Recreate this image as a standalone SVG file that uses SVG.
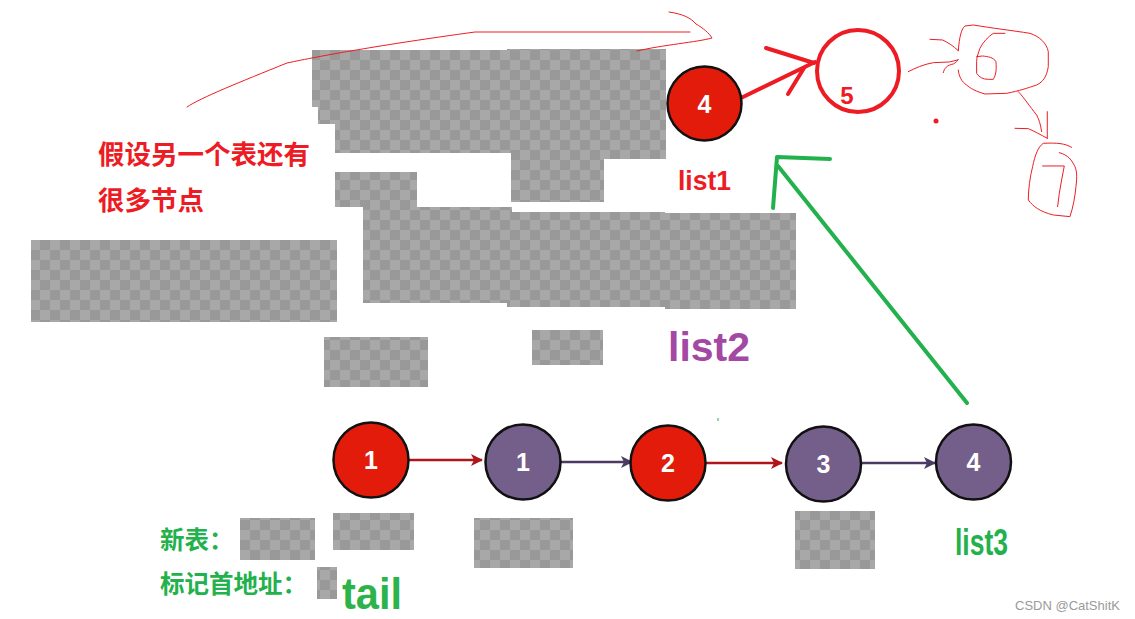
<svg xmlns="http://www.w3.org/2000/svg" width="1135" height="619" viewBox="0 0 1135 619">
<style>
.chk{fill:url(#checker)}
.nr{fill:#e31b0b;stroke:#111;stroke-width:2.5}
.np{fill:#745e8a;stroke:#111;stroke-width:2.5}
.nl{font-family:"Liberation Sans",Arial,sans-serif;font-weight:700;font-size:25px;fill:#fff;text-anchor:middle}
.hand{fill:none;stroke:#ed1c24;stroke-width:3;stroke-linecap:round;stroke-linejoin:round}
.cjk{font-family:"Noto Sans CJK SC","Liberation Sans",sans-serif;font-weight:700}
.lbl{font-family:"Liberation Sans",Arial,sans-serif;font-weight:700}
</style>
<defs>
<pattern id="checker" patternUnits="userSpaceOnUse" width="20" height="20">
<rect width="20" height="20" fill="#a8a8a8"/>
<rect width="10" height="10" fill="#999"/>
<rect x="10" y="10" width="10" height="10" fill="#999"/>
</pattern>
<marker id="ahR" markerUnits="userSpaceOnUse" markerWidth="12" markerHeight="12" refX="11" refY="6" orient="auto">
<path d="M0,0 L12,6 L0,12 L3,6 Z" fill="#b0151a"/>
</marker>
<marker id="ahP" markerUnits="userSpaceOnUse" markerWidth="12" markerHeight="12" refX="11" refY="6" orient="auto">
<path d="M0,0 L12,6 L0,12 L3,6 Z" fill="#4b3b63"/>
</marker>
</defs>
<rect width="1135" height="619" fill="#fff"/>

<g id="checker-areas">
<path class="chk" d="M312,50 L507,50 L507,49 L666,49 L666,159 L604,159 L604,202 L511,202 L511,153 L335,153 L335,124 L318,124 L318,107 L312,107 Z"/>
<rect class="chk" x="335" y="172" width="82" height="35"/>
<path class="chk" d="M363,207 L512,207 L512,212 L665,212 L665,213 L796,213 L796,309 L665,309 L665,307 L507,307 L507,303 L363,303 Z"/>
<rect class="chk" x="31" y="240" width="306" height="82"/>
<rect class="chk" x="324" y="337" width="104" height="50"/>
<rect class="chk" x="532" y="330" width="71" height="35"/>
<rect class="chk" x="240" y="518" width="75" height="42"/>
<rect class="chk" x="333" y="513" width="81" height="37"/>
<rect class="chk" x="474" y="518" width="99" height="50"/>
<rect class="chk" x="317" y="567" width="20" height="32"/>
<rect class="chk" x="795" y="511" width="80" height="58"/>
</g>

<g id="connectors">
<line x1="409" y1="460" x2="482" y2="460" stroke="#b0151a" stroke-width="2.5" marker-end="url(#ahR)"/>
<line x1="561" y1="462" x2="632" y2="462" stroke="#4b3b63" stroke-width="2.5" marker-end="url(#ahP)"/>
<line x1="706" y1="463" x2="782" y2="463" stroke="#b0151a" stroke-width="2.5" marker-end="url(#ahR)"/>
<line x1="862" y1="463" x2="935" y2="463" stroke="#4b3b63" stroke-width="2.5" marker-end="url(#ahP)"/>
<g stroke="#ed1c24" stroke-width="4" stroke-linecap="round" fill="none">
<line x1="741" y1="98" x2="815" y2="62"/>
<line x1="766" y1="48" x2="814" y2="63"/>
<line x1="788" y1="94" x2="804" y2="68"/>
</g>
<g stroke="#22b14c" stroke-width="4" stroke-linecap="round" stroke-linejoin="round" fill="none">
<line x1="967" y1="403" x2="778" y2="166"/>
<polyline points="773,208 777,157 830,159"/>
</g>
<line x1="718" y1="418" x2="718" y2="421" stroke="#22b14c" stroke-width="1"/>
<g fill="none" stroke="#ed1c24" stroke-width="1" stroke-linecap="round">
<path d="M187,107 C200,98 240,82 287,63 C320,56 380,45 475,32 L690,32"/>
<path d="M669,12 C683,14 691,18 696,24 C703,28 709,33 712,38 C698,42 662,45 637,51"/>
</g>
</g>

<g id="hand-drawn" transform="translate(660,0) scale(0.3333)">
<path class="hand" d="M745,215 C765,205 790,193 820,188 L868,186 L893,180"/>
<path class="hand" d="M810,118 L848,120 C865,128 880,138 895,152"/>
<path class="hand" d="M850,218 C852,205 862,195 880,192 C888,188 893,182 895,178"/>
<path class="hand" d="M895,152 C898,110 905,85 915,78 L940,75 C1000,85 1060,92 1110,100 C1140,110 1160,130 1165,155 L1165,200 C1160,230 1150,245 1130,255 C1100,265 1080,272 1040,280 L975,282 C950,275 930,265 920,255 C905,245 897,230 895,210"/>
<path class="hand" d="M1035,100 L1000,100 C985,110 970,125 960,145 C955,160 950,170 950,185 L950,220 C958,232 968,238 985,238 L1000,238 C1008,225 1010,210 1008,185 C1000,172 985,170 968,168 L950,170"/>
<path class="hand" d="M1075,275 C1090,290 1110,320 1130,345 C1138,360 1142,375 1145,395"/>
<path class="hand" d="M1162,335 L1162,415"/>
<path class="hand" d="M1065,385 L1105,386 C1125,395 1140,403 1162,415"/>
<path class="hand" d="M1235,442 C1215,430 1190,428 1150,430 C1135,440 1125,465 1118,500 C1110,530 1105,570 1105,600 C1120,620 1140,635 1180,645 L1230,650 C1240,620 1245,590 1248,560 C1252,530 1250,510 1245,500 C1235,480 1225,465 1198,458"/>
<path class="hand" d="M1148,498 L1213,498 L1205,540 L1198,580 L1193,620"/>
</g>
<circle cx="936" cy="121" r="2.5" fill="#ed1c24"/>

<g id="node-top4">
<circle class="nr" cx="704.5" cy="103.5" r="37"/>
<text class="nl" x="704.5" y="112.5">4</text>
</g>
<g id="node-5">
<circle cx="858" cy="71" r="41" fill="none" stroke="#ed1c24" stroke-width="4"/>
<text class="lbl" x="847" y="104" font-size="24" fill="#ed1c24" text-anchor="middle">5</text>
</g>

<g id="node-1a">
<circle class="nr" cx="371" cy="460" r="37.5"/>
<text class="nl" x="371" y="469">1</text>
</g>
<g id="node-1b">
<circle class="np" cx="523" cy="462" r="37.5"/>
<text class="nl" x="523" y="471">1</text>
</g>
<g id="node-2">
<circle class="nr" cx="668" cy="463" r="37.5"/>
<text class="nl" x="668" y="472">2</text>
</g>
<g id="node-3">
<circle class="np" cx="823.5" cy="464" r="37.5"/>
<text class="nl" x="823.5" y="473">3</text>
</g>
<g id="node-4">
<circle class="np" cx="973.5" cy="462" r="37.5"/>
<text class="nl" x="973.5" y="471">4</text>
</g>

<g id="labels">
<text class="cjk" x="98" y="164" font-size="26.5" fill="#ed1c24">假设另一个表还有</text>
<text class="cjk" x="98" y="210" font-size="26.5" fill="#ed1c24">很多节点</text>
<text class="lbl" x="678" y="190" font-size="28" fill="#ed1c24" textLength="53" lengthAdjust="spacingAndGlyphs">list1</text>
<text class="lbl" x="668" y="361" font-size="40" fill="#a349a4" textLength="82" lengthAdjust="spacingAndGlyphs">list2</text>
<text class="lbl" x="955" y="555" font-size="36" fill="#22b14c" textLength="53" lengthAdjust="spacingAndGlyphs">list3</text>
<text class="cjk" x="160" y="549" font-size="24.5" fill="#22b14c">新表：</text>
<text class="cjk" x="160" y="593" font-size="24.5" fill="#22b14c">标记首地址：</text>
<text class="lbl" x="342" y="609" font-size="44" fill="#2db34a" textLength="60" lengthAdjust="spacingAndGlyphs">tail</text>
<text x="1015" y="610" font-family="Liberation Sans,Arial,sans-serif" font-size="13" fill="#9a9a9a">CSDN @CatShitK</text>
</g>
</svg>
